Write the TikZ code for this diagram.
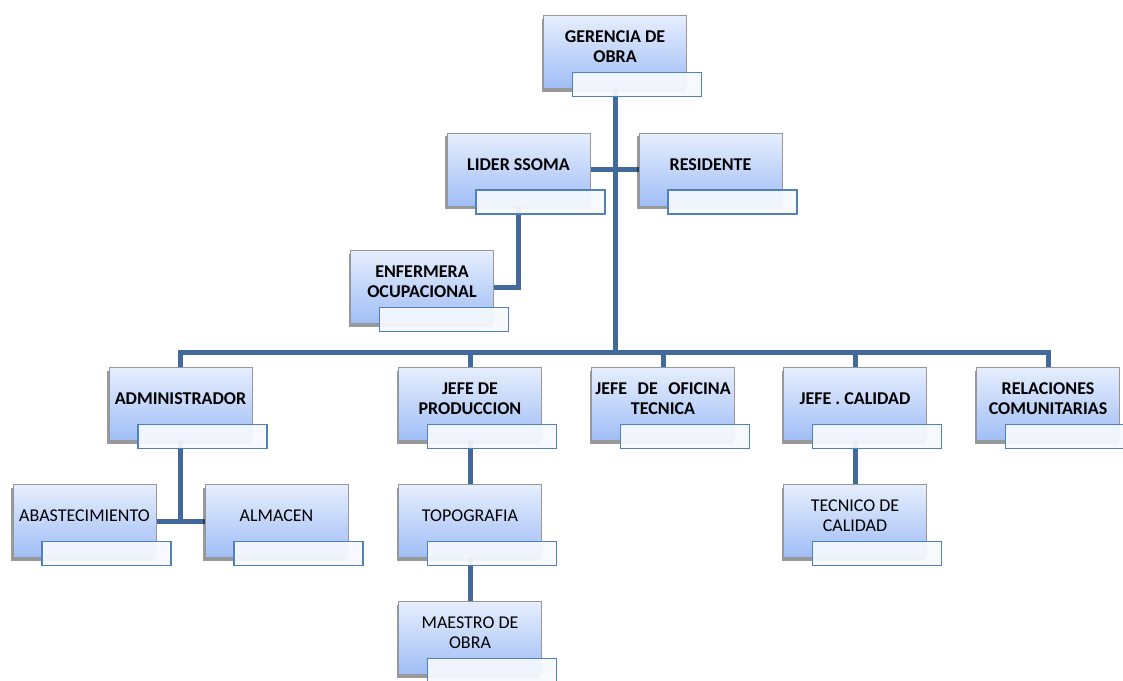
\documentclass[tikz,border=0pt]{standalone}
\usepackage{fontspec}
\setmainfont{Carlito}
\usetikzlibrary{shadows}
\pgfdeclarelayer{background}
\pgfsetlayers{background,main}
\definecolor{boxtop}{RGB}{230,238,253}
\definecolor{boxbot}{RGB}{160,190,246}
\definecolor{boxline}{RGB}{150,150,155}
\definecolor{subfill}{RGB}{246,249,254}
\definecolor{subline}{RGB}{79,129,189}
\definecolor{connc}{RGB}{65,105,155}
\tikzset{
  mainbox/.style={draw=boxline, line width=0.8pt, top color=boxtop, bottom color=boxbot,
    minimum width=143pt, minimum height=73pt, inner sep=0pt,
    drop shadow={shadow xshift=-2pt, shadow yshift=-3pt, opacity=0.4, fill=black}},
  subbox/.style={draw=subline, line width=1.7pt, fill=subfill, fill opacity=0.93,
    minimum width=129pt, minimum height=24pt, inner sep=0pt},
  btxt/.style={font=\fontsize{18}{20}\selectfont\bfseries, align=center, inner sep=0pt},
  rtxt/.style={font=\fontsize{18}{20}\selectfont, align=center, inner sep=0pt},
  conn/.style={draw=connc, line width=5pt}
}
\newcommand{\orgunit}[5]{%
  \node[mainbox] (#1) at (#2,#3) {};
  \node[#5] (#1-t) at ([yshift=5pt]#1.center) {#4};
  \node[subbox] (#1-s) at ([xshift=22pt,yshift=-32.5pt]#1.center) {};
}
\begin{document}
\begin{tikzpicture}[x=1pt,y=-1pt]
\useasboundingbox (0,0) rectangle (1123,680);
% boxes
\orgunit{g}{615}{52}{GERENCIA DE\\OBRA}{btxt}
\orgunit{lider}{518.5}{169.5}{LIDER SSOMA}{btxt}
\orgunit{res}{710.5}{169.5}{RESIDENTE}{btxt}
\orgunit{enf}{422}{287}{ENFERMERA\\OCUPACIONAL}{btxt}
\orgunit{admin}{180.5}{404}{ADMINISTRADOR}{btxt}
\orgunit{prod}{470}{404}{JEFE DE\\PRODUCCION}{btxt}
\orgunit{ofi}{663}{404}{JEFE\hspace{6.5pt} DE\hspace{6.5pt} OFICINA\\TECNICA}{btxt}
\orgunit{cal}{855}{404}{JEFE . CALIDAD}{btxt}
\orgunit{rel}{1048}{404}{RELACIONES\\COMUNITARIAS}{btxt}
\orgunit{abast}{84.5}{521}{ABASTECIMIENTO}{rtxt}
\orgunit{alm}{276.5}{521}{ALMACEN}{rtxt}
\orgunit{topo}{470}{521}{TOPOGRAFIA}{rtxt}
\orgunit{tec}{855}{521}{TECNICO DE\\CALIDAD}{rtxt}
\orgunit{maes}{470}{638}{MAESTRO DE\\OBRA}{rtxt}
% connectors behind the boxes
\coordinate (bus) at (615,352);
\begin{pgfonlayer}{background}
\draw[conn] (g.center) -- (bus);
\draw[conn] (admin.north) |- (bus) -| (rel.north);
\draw[conn] (prod.north) -- (prod.north |- bus);
\draw[conn] (ofi.north) -- (ofi.north |- bus);
\draw[conn] (cal.north) -- (cal.north |- bus);
\draw[conn] (lider.east) -- (res.west);
\draw[conn] (lider.south) |- (enf.east);
\draw[conn] (admin.south) |- (abast.east);
\draw[conn] (abast.east) -- (alm.west);
\draw[conn] (prod.south) -- (topo.north);
\draw[conn] (topo.south) -- (maes.north);
\draw[conn] (cal.south) -- (tec.north);
\end{pgfonlayer}
\end{tikzpicture}
\end{document}
